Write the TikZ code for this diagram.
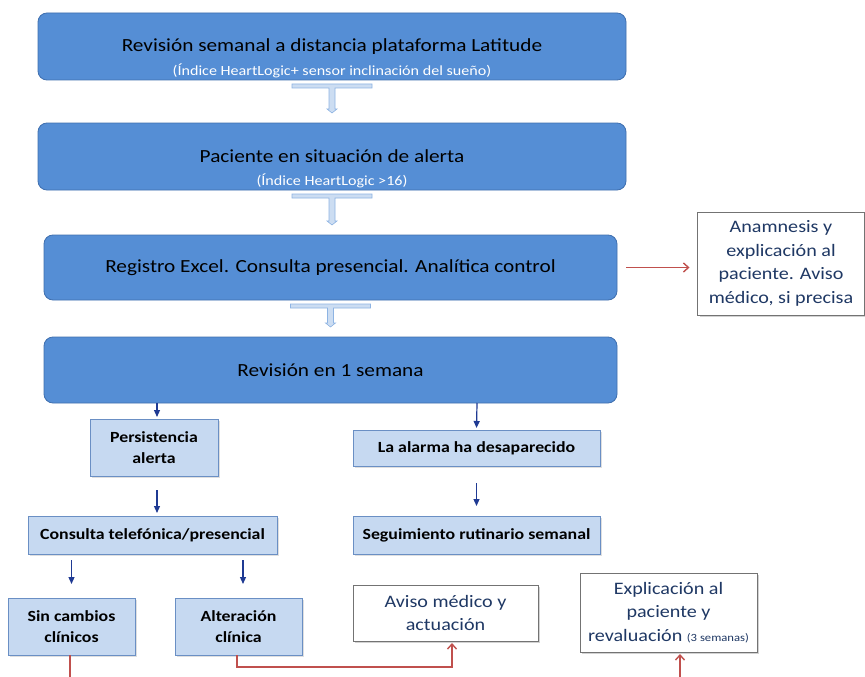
\documentclass[tikz,border=0pt]{standalone}
\usepackage{fontspec}
\setmainfont{Carlito}[FakeStretch=1.15]
\usepackage{tikz}
\usetikzlibrary{arrows.meta, positioning, calc, shadows}
\definecolor{mainblue}{HTML}{558ED5}
\definecolor{mainedge}{HTML}{3F6FAF}
\definecolor{paleblue}{HTML}{C6D9F1}
\definecolor{paleedge}{HTML}{6A8FC4}
\definecolor{navy}{HTML}{1F3A93}
\definecolor{navytext}{HTML}{1F3864}
\definecolor{redline}{HTML}{C0504D}
\definecolor{tfill}{HTML}{CCDDF2}
\definecolor{tedge}{HTML}{8EB4E3}

\newcommand{\tlink}[2]{%
  \path[tconn] let \p1=(#1.south), \p2=(#2.north) in
    (\x1-40pt,\y1-4pt) -- (\x1+40pt,\y1-4pt) -- (\x1+40pt,\y1-8pt)
    -- (\x1+3pt,\y1-8pt) -- (\x1+3pt,\y2+14pt) -- (\x1+5pt,\y2+14pt)
    -- (\x1,\y2+10pt) -- (\x1-5pt,\y2+14pt) -- (\x1-3pt,\y2+14pt)
    -- (\x1-3pt,\y1-8pt) -- (\x1-40pt,\y1-8pt) -- cycle;}

\begin{document}
\begin{tikzpicture}[
  x=1pt, y=-1pt,
  mainbox/.style={rectangle, rounded corners=9pt, draw=mainedge, fill=mainblue,
                  line width=0.8pt, align=center, outer sep=0pt,
                  font=\fontsize{18.5}{23}\selectfont},
  subtxt/.style={inner sep=1.5pt, text=white, font=\fontsize{14}{16}\selectfont},
  palebox/.style={rectangle, draw=paleedge, fill=paleblue, line width=0.7pt,
                  align=center, outer sep=0pt, font=\bfseries\fontsize{15.5}{21}\selectfont,
                  drop shadow={opacity=0.25, shadow xshift=1.5pt, shadow yshift=-1.5pt}},
  notebox/.style={rectangle, draw=black!55, fill=white, line width=0.7pt,
                  align=center, outer sep=0pt, text=navytext,
                  font=\fontsize{17.5}{23.5}\selectfont,
                  drop shadow={opacity=0.35, shadow xshift=2pt, shadow yshift=-2pt}},
  tconn/.style={draw=tedge, fill=tfill, line width=0.6pt},
  bluearrow/.style={-{Triangle[length=7pt, width=6pt]}, line width=1.2pt, color=navy},
  redarrow/.style={-{Straight Barb[length=5pt, width=9pt]}, line width=1.4pt, color=redline}
]
\useasboundingbox[fill=white] (0,0) rectangle (865,677);

\node[mainbox, minimum width=588pt, minimum height=67pt] (revsem) at (332,46.5)
  {Revisión semanal a distancia plataforma Latitude};
\node[subtxt, above=0pt of revsem.south] (revsemsub)
  {(Índice HeartLogic+ sensor inclinación del sueño)};
\node[mainbox, minimum width=588pt, minimum height=67pt] (alerta) at (332,156.5)
  {Paciente en situación de alerta};
\node[subtxt, above=0pt of alerta.south] (alertasub) {(Índice HeartLogic >16)};
\node[mainbox, minimum width=573pt, minimum height=65pt] (registro) at (330.5,267.5)
  {Registro Excel. Consulta presencial. Analítica control};
\node[mainbox, minimum width=573pt, minimum height=66pt] (revision) at (330.5,370)
  {Revisión en 1 semana};

\node[notebox, minimum width=167pt, minimum height=103pt] (anamnesis) at (781,263.5)
  {Anamnesis y\\ explicación al\\ paciente. Aviso\\ médico, si precisa};

\node[palebox, minimum width=128pt, minimum height=57pt] (persist) at (154,447.5)
  {Persistencia\\ alerta};
\node[palebox, minimum width=247pt, minimum height=36pt] (desap) at (476.5,448)
  {La alarma ha desaparecido};
\node[palebox, minimum width=249pt, minimum height=38pt] (consulta) at (152.5,535)
  {Consulta telefónica/presencial};
\node[palebox, minimum width=247pt, minimum height=38pt] (seguim) at (476.5,535)
  {Seguimiento rutinario semanal};
\node[palebox, minimum width=127pt, minimum height=57pt] (sincambio) at (71.5,626.5)
  {Sin cambios\\ clínicos};
\node[palebox, minimum width=127pt, minimum height=57pt] (alterac) at (238.5,626.5)
  {Alteración\\ clínica};

\node[notebox, minimum width=185pt, minimum height=56pt] (aviso) at (445.5,613)
  {Aviso médico y\\ actuación};
\node[notebox, minimum width=177pt, minimum height=79pt] (explic) at (668.5,612.5)
  {Explicación al\\ paciente y\\ revaluación {\fontsize{11}{13}\selectfont(3 semanas)}};

\coordinate (sinfin) at (70,677);
\coordinate (explin) at (680,677);

\tlink{revsem}{alerta}
\tlink{alerta}{registro}
\tlink{registro}{revision}

\draw[bluearrow, shorten >=2pt] ($(revision.south)+(-173.5,0)$) -- ($(persist.north)+(3,0)$);
\draw[bluearrow, shorten >=2pt] ($(revision.south)+(146.5,0)$) -- (desap.north);
\draw[bluearrow, shorten <=14pt, shorten >=3pt] ($(persist.south)+(3,0)$) -- ($(consulta.north)+(4.5,0)$);
\draw[bluearrow, shorten <=17pt, shorten >=10pt] (desap.south) -- (seguim.north);
\draw[bluearrow, shorten <=6pt, shorten >=14pt] (consulta.south -| sincambio.north) -- (sincambio.north);
\draw[bluearrow, shorten <=6pt, shorten >=14pt] ($(consulta.south -| alterac.north)+(4.5,0)$) -- ($(alterac.north)+(4.5,0)$);

\draw[redarrow, shorten <=9pt, shorten >=8pt] (registro.east) -- (registro.east -| anamnesis.west);
\draw[redarrow, shorten >=2pt] ($(alterac.south)+(-1.5,0)$) -- ++(0,12) -| ($(aviso.south)+(6.5,0)$);
\draw[redarrow, -] (sincambio.south -| sinfin) -- (sinfin);
\draw[redarrow, shorten >=2pt] (explin) -- (explin |- explic.south);

\end{tikzpicture}
\end{document}
